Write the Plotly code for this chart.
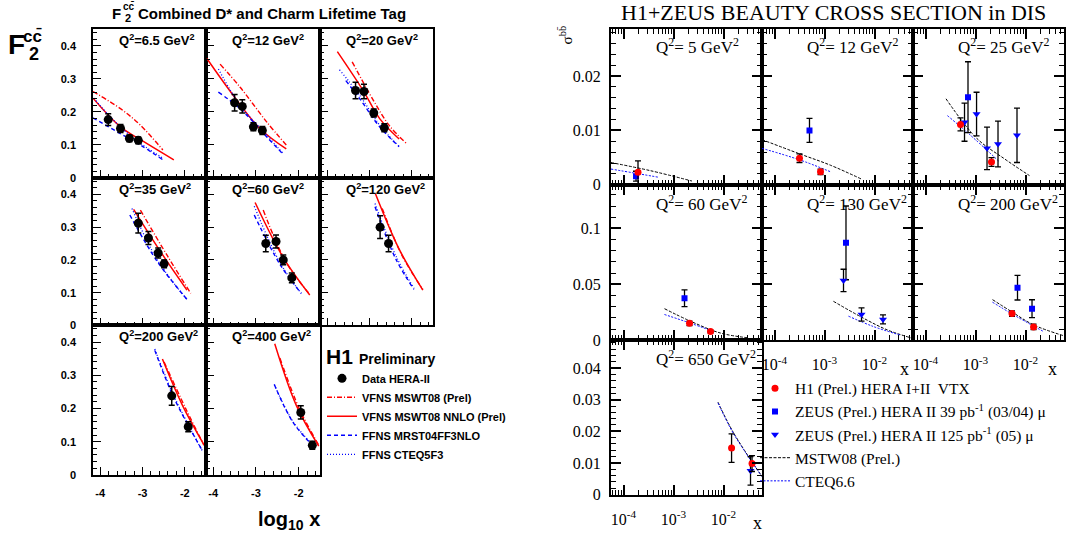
import plotly.graph_objects as go

W, H = 1069, 538
SANS = "Liberation Sans"
SERIF = "Liberation Serif"
RED, BLUE, BLACK = "#ff0000", "#0000ff", "#000000"

# ================= Left chart: H1 F2^cc (log10 x) =================
charm_q2 = ["6.5", "12", "20", "35", "60", "120", "200", "400"]
charm_logx = [
    [-3.81, -3.52, -3.31, -3.10],
    [-3.50, -3.32, -3.06, -2.85],
    [-3.33, -3.13, -2.90, -2.65],
    [-3.10, -2.86, -2.63, -2.49],
    [-2.77, -2.53, -2.36, -2.16],
    [-2.75, -2.55],
    [-2.31, -1.92],
    [-1.95, -1.68],
]
charm_f2 = [
    [0.177, 0.150, 0.120, 0.114],
    [0.228, 0.217, 0.155, 0.144],
    [0.265, 0.262, 0.197, 0.152],
    [0.312, 0.267, 0.221, 0.188],
    [0.250, 0.256, 0.200, 0.145],
    [0.300, 0.250],
    [0.238, 0.145],
    [0.188, 0.089],
]
charm_err = [
    [0.018, 0.012, 0.010, 0.010],
    [0.025, 0.020, 0.012, 0.012],
    [0.025, 0.022, 0.012, 0.012],
    [0.030, 0.020, 0.015, 0.012],
    [0.025, 0.020, 0.015, 0.015],
    [0.035, 0.025],
    [0.028, 0.015],
    [0.020, 0.012],
]
# VFNS MSWT08 (Prel) - red dash-dot
vfns_logx = [
    [-4.17, -3.52, -3.05, -2.52], [-3.84, -3.37, -2.75, -2.29],
    [-3.41, -2.93, -2.54, -2.13], [-3.05, -2.41, -1.86],
    [-2.83, -2.29, -1.74], [-2.70, -2.23, -1.74],
    [-2.49, -1.98, -1.55], [-2.44, -1.98, -1.53],
]
vfns_f2 = [
    [0.262, 0.210, 0.160, 0.085], [0.345, 0.275, 0.170, 0.100],
    [0.352, 0.240, 0.160, 0.105], [0.352, 0.212, 0.098],
    [0.352, 0.192, 0.095], [0.357, 0.213, 0.110],
    [0.340, 0.200, 0.090], [0.352, 0.198, 0.090],
]
# VFNS MSWT08 NNLO (Prel) - red solid
nnlo_logx = [
    [-4.17, -3.52, -2.97, -2.26], [-4.15, -3.53, -2.91, -2.29],
    [-3.76, -3.15, -2.76, -2.30], [-3.21, -2.61, -1.95],
    [-3.02, -2.36, -1.74], [-2.86, -2.30, -1.74],
    [-2.53, -2.05, -1.54], [-2.56, -2.05, -1.53],
]
nnlo_f2 = [
    [0.242, 0.155, 0.110, 0.055], [0.362, 0.250, 0.150, 0.088],
    [0.383, 0.265, 0.180, 0.118], [0.354, 0.232, 0.108],
    [0.375, 0.207, 0.093], [0.402, 0.233, 0.108],
    [0.349, 0.208, 0.089], [0.395, 0.208, 0.087],
]
# FFNS MRST04FF3NLO - blue dashed
mrst_logx = [
    [-4.17, -3.60, -3.05, -2.52], [-3.88, -3.37, -2.75, -2.37],
    [-3.56, -3.23, -2.76, -2.30], [-3.30, -2.65, -1.94],
    [-3.04, -2.44, -1.94], [-2.87, -2.38, -1.95],
    [-2.71, -2.25, -1.58], [-2.57, -2.13, -1.63],
]
mrst_f2 = [
    [0.182, 0.140, 0.100, 0.055], [0.260, 0.210, 0.125, 0.073],
    [0.295, 0.240, 0.155, 0.095], [0.337, 0.195, 0.078],
    [0.337, 0.187, 0.098], [0.362, 0.203, 0.110],
    [0.375, 0.230, 0.072], [0.272, 0.158, 0.083],
]
# FFNS CTEQ5F3 - blue dotted
cteq5_logx = [
    [-4.15, -3.76, -3.21, -2.52], [-3.88, -3.37, -2.75, -2.37],
    [-3.71, -3.23, -2.76, -2.30], [-3.25, -2.65, -1.94],
    [-3.04, -2.44, -1.94], [-2.87, -2.38, -1.95],
    [-2.71, -2.25, -1.58], [-2.57, -2.13, -1.63],
]
cteq5_f2 = [
    [0.242, 0.185, 0.120, 0.060], [0.330, 0.220, 0.130, 0.075],
    [0.328, 0.250, 0.160, 0.095], [0.357, 0.200, 0.078],
    [0.364, 0.192, 0.098], [0.372, 0.213, 0.113],
    [0.379, 0.235, 0.071], [0.272, 0.160, 0.085],
]
left_xticks = [-4, -3, -2]
left_xticklabels = ["-4", "-3", "-2"]
left_yticks = [0, 0.1, 0.2, 0.3, 0.4]
left_yticklabels = ["0", "0.1", "0.2", "0.3", "0.4"]

# ================= Right chart: H1+ZEUS beauty (x) =================
beauty_q2 = ["5", "12", "25", "60", "130", "200", "650"]
h1_x = [[1.95e-4], [3.16e-4, 8.32e-4], [5.01e-4, 2.09e-3], [2.09e-3, 5.50e-3], [], [5.37e-3, 1.45e-2], [1.45e-2, 3.72e-2]]
h1_sigma = [[0.0023], [0.0049, 0.0024], [0.0111, 0.0042], [0.0151, 0.0078], [], [0.0238, 0.0119], [0.0147, 0.0098]]
h1_err = [[0.0021], [0.0008, 0.0005], [0.0012, 0.0008], [0.0020, 0.0012], [], [0.0025, 0.0025], [0.0045, 0.0025]]
zeus39_x = [[1.78e-4], [5.01e-4], [7.08e-4], [1.66e-3], [2.69e-3], [6.92e-3, 1.35e-2], []]
zeus39_sigma = [[0.0016], [0.0100], [0.0161], [0.0375], [0.0871], [0.047, 0.0282], []]
zeus39_err = [[0.0009], [0.0022], [0.0065], [0.0075], [0.033], [0.011, 0.008], []]
zeus125_x = [[], [], [6.03e-4, 1.05e-3, 1.70e-3, 2.82e-3, 6.76e-3], [], [2.40e-3, 5.50e-3, 1.48e-2], [], [3.47e-2]]
zeus125_sigma = [[], [], [0.0115, 0.0130, 0.0067, 0.0075, 0.0091], [], [0.0535, 0.023, 0.0186], [], [0.0075]]
zeus125_err = [[], [], [0.0035, 0.0040, 0.0039, 0.0042, 0.0050], [], [0.010, 0.006, 0.004], [], [0.0045]]
mstw_x = [
    [5.62e-5, 3.47e-4, 2.34e-3], [5.62e-5, 3.16e-4, 1.32e-3, 5.37e-3],
    [2.57e-4, 1.07e-3, 3.63e-3, 1.20e-2], [6.61e-4, 2.09e-3, 8.71e-3, 3.16e-2],
    [1.51e-3, 5.62e-3, 1.78e-2, 5.37e-2], [2.19e-3, 5.37e-3, 1.45e-2, 6.31e-2],
    [7.76e-3, 1.58e-2, 5.89e-2],
]
mstw_sigma = [
    [0.0041, 0.0026, 0.0007], [0.0083, 0.0057, 0.0036, 0.0011],
    [0.0158, 0.0085, 0.0049, 0.0017], [0.0282, 0.0174, 0.0064, 0.0021],
    [0.0348, 0.0204, 0.0093, 0.0021], [0.0363, 0.0253, 0.0137, 0.0035],
    [0.0292, 0.0196, 0.0057],
]
cteq66_x = [
    [5.62e-5, 1.58e-4, 5.01e-4], [5.62e-5, 3.16e-4, 1.32e-3],
    [2.75e-4, 7.94e-4, 2.88e-3], [6.61e-4, 2.09e-3, 6.31e-3],
    [3.02e-3, 9.55e-3, 3.39e-2], [2.19e-3, 5.37e-3, 2.29e-2],
    [7.76e-3, 1.58e-2, 5.89e-2],
]
cteq66_sigma = [
    [0.0029, 0.0022, 0.0014], [0.0067, 0.0046, 0.0024],
    [0.0127, 0.0091, 0.0044], [0.0230, 0.0155, 0.0078],
    [0.0215, 0.0122, 0.0044], [0.0340, 0.0235, 0.0078],
    [0.0290, 0.0193, 0.0057],
]
right_xticks = [1e-4, 1e-3, 1e-2]
right_xticklabels = ["10<sup>-4</sup>", "10<sup>-3</sup>", "10<sup>-2</sup>"]
right_yticks = [[0, 0.01, 0.02], [0, 0.05, 0.1], [0, 0.01, 0.02, 0.03, 0.04]]
right_yticklabels = [["0", "0.01", "0.02"], ["0", "0.05", "0.1"], ["0", "0.01", "0.02", "0.03", "0.04"]]
right_yranges = [[0, 0.0287], [0, 0.139], [0, 0.0488]]
right_yminor = [0.002, 0.01, 0.002]

# ================= layout geometry (pixels) =================
LCOLS = [93, 206, 320, 433]
LROWS = [30, 181, 331, 483]
RCOLS = [611, 762, 913, 1064]
RROWS = [29, 188, 346, 503]

def fx(p):
    return p / W

def fy(p):
    return 1 - p / H

fig = go.Figure()
axes = {}
annotations = []

def ann(text, x, y, size, family, xanchor="left", yanchor="middle", bold=False, angle=0):
    annotations.append(dict(
        text=text, x=fx(x), y=fy(y), xref="paper", yref="paper",
        xanchor=xanchor, yanchor=yanchor, showarrow=False, textangle=angle,
        font=dict(family=family, size=size, color="black", weight="bold" if bold else "normal"),
    ))

# ---------- left panels ----------
left_tickfont = dict(family=SANS, size=11, color="black", weight="bold")
for k in range(8):
    r, c = divmod(k, 3)
    n = k + 1
    axes[f"xaxis{n}"] = dict(
        domain=[fx(LCOLS[c]), fx(LCOLS[c + 1])], range=[-4.17, -1.5], anchor=f"y{n}",
        showline=True, linecolor="black", linewidth=1.5, mirror=True,
        ticks="inside", ticklen=8, tickwidth=1.2, tickcolor="black",
        tickmode="array", tickvals=left_xticks, ticktext=left_xticklabels,
        showticklabels=(r == 2), tickfont=left_tickfont, ticklabelstandoff=7,
        minor=dict(ticks="inside", ticklen=4, tickwidth=1, tickcolor="black", dtick=0.2, tick0=-4),
        showgrid=False, zeroline=False, fixedrange=True,
    )
    axes[f"yaxis{n}"] = dict(
        domain=[fy(LROWS[r + 1]), fy(LROWS[r])], range=[0, 0.45], anchor=f"x{n}",
        showline=True, linecolor="black", linewidth=1.5, mirror=True,
        ticks="inside", ticklen=8, tickwidth=1.2, tickcolor="black",
        tickmode="array", tickvals=left_yticks, ticktext=left_yticklabels,
        showticklabels=(c == 0), tickfont=left_tickfont, ticklabelstandoff=13,
        minor=dict(ticks="inside", ticklen=4, tickwidth=1, tickcolor="black", dtick=0.02, tick0=0),
        showgrid=False, zeroline=False, fixedrange=True,
    )
    xa, ya = f"x{n}", f"y{n}"
    first = (k == 0)
    fig.add_trace(go.Scatter(x=vfns_logx[k], y=vfns_f2[k], mode="lines", xaxis=xa, yaxis=ya,
                             line=dict(color=RED, width=1.4, dash="5px,2px,1px,2px", shape="spline"),
                             name="VFNS MSWT08 (Prel)", legend="legend", legendrank=2, showlegend=first))
    fig.add_trace(go.Scatter(x=nnlo_logx[k], y=nnlo_f2[k], mode="lines", xaxis=xa, yaxis=ya,
                             line=dict(color=RED, width=1.5, shape="spline"),
                             name="VFNS MSWT08 NNLO (Prel)", legend="legend", legendrank=3, showlegend=first))
    fig.add_trace(go.Scatter(x=mrst_logx[k], y=mrst_f2[k], mode="lines", xaxis=xa, yaxis=ya,
                             line=dict(color=BLUE, width=1.4, dash="4px,3px", shape="spline"),
                             name="FFNS MRST04FF3NLO", legend="legend", legendrank=4, showlegend=first))
    fig.add_trace(go.Scatter(x=cteq5_logx[k], y=cteq5_f2[k], mode="lines", xaxis=xa, yaxis=ya,
                             line=dict(color=BLUE, width=1.3, dash="1px,2px", shape="spline"),
                             name="FFNS CTEQ5F3", legend="legend", legendrank=5, showlegend=first))
    fig.add_trace(go.Scatter(x=charm_logx[k], y=charm_f2[k], mode="markers", xaxis=xa, yaxis=ya,
                             marker=dict(color=BLACK, size=9, symbol="circle"),
                             error_y=dict(type="data", array=charm_err[k], color=BLACK, thickness=1.5, width=3),
                             name="Data HERA-II", legend="legend", legendrank=1, showlegend=first))
    ann(f"Q<sup>2</sup>={charm_q2[k]} GeV<sup>2</sup>", LCOLS[c] + 24, LROWS[r] + 11, 13, SANS, bold=True)

# ---------- right panels ----------
minor_log = [m * 10.0 ** d for d in (-5, -4, -3, -2) for m in range(2, 10)]
right_tickfont = dict(family=SERIF, size=16, color="black")
seen = set()
for j in range(7):
    r, c = divmod(j, 3)
    n = 9 + j
    axes[f"xaxis{n}"] = dict(
        type="log", domain=[fx(RCOLS[c]), fx(RCOLS[c + 1])], range=[-4.25, -1.23], anchor=f"y{n}",
        showline=True, linecolor="black", linewidth=2, mirror="allticks",
        ticks="inside", ticklen=10, tickwidth=1.5, tickcolor="black",
        tickmode="array", tickvals=right_xticks, ticktext=right_xticklabels,
        showticklabels=(j >= 4), tickfont=right_tickfont, ticklabelstandoff=9,
        minor=dict(tickmode="array", tickvals=minor_log, ticks="inside", ticklen=5, tickwidth=1, tickcolor="black"),
        showgrid=False, zeroline=False, fixedrange=True,
    )
    axes[f"yaxis{n}"] = dict(
        domain=[fy(RROWS[r + 1]), fy(RROWS[r])], range=right_yranges[r], anchor=f"x{n}",
        showline=True, linecolor="black", linewidth=2, mirror="allticks",
        ticks="inside", ticklen=10, tickwidth=1.5, tickcolor="black",
        tickmode="array", tickvals=right_yticks[r], ticktext=right_yticklabels[r],
        showticklabels=(c == 0), tickfont=right_tickfont, ticklabelstandoff=5,
        minor=dict(ticks="inside", ticklen=5, tickwidth=1, tickcolor="black", dtick=right_yminor[r], tick0=0),
        showgrid=False, zeroline=False, fixedrange=True,
    )
    xa, ya = f"x{n}", f"y{n}"

    def show(key):
        if key in seen:
            return False
        seen.add(key)
        return True

    fig.add_trace(go.Scatter(x=mstw_x[j], y=mstw_sigma[j], mode="lines", xaxis=xa, yaxis=ya,
                             line=dict(color=BLACK, width=1, dash="3px,1.5px", shape="spline"),
                             name="MSTW08 (Prel.)", legend="legend2", legendrank=14, showlegend=show("mstw")))
    fig.add_trace(go.Scatter(x=cteq66_x[j], y=cteq66_sigma[j], mode="lines", xaxis=xa, yaxis=ya,
                             line=dict(color=BLUE, width=1, dash="2px,1.5px", shape="spline"),
                             name="CTEQ6.6", legend="legend2", legendrank=15, showlegend=show("cteq")))
    if zeus39_x[j]:
        fig.add_trace(go.Scatter(x=zeus39_x[j], y=zeus39_sigma[j], mode="markers", xaxis=xa, yaxis=ya,
                                 marker=dict(color=BLUE, size=6, symbol="square"),
                                 error_y=dict(type="data", array=zeus39_err[j], color=BLACK, thickness=1.3, width=3),
                                 name="ZEUS (Prel.) HERA II 39 pb<sup>-1</sup> (03/04) \u03bc",
                                 legend="legend2", legendrank=12, showlegend=show("z39")))
    if zeus125_x[j]:
        fig.add_trace(go.Scatter(x=zeus125_x[j], y=zeus125_sigma[j], mode="markers", xaxis=xa, yaxis=ya,
                                 marker=dict(color=BLUE, size=7, symbol="triangle-down"),
                                 error_y=dict(type="data", array=zeus125_err[j], color=BLACK, thickness=1.3, width=3),
                                 name="ZEUS (Prel.) HERA II 125 pb<sup>-1</sup> (05) \u03bc",
                                 legend="legend2", legendrank=13, showlegend=show("z125")))
    if h1_x[j]:
        fig.add_trace(go.Scatter(x=h1_x[j], y=h1_sigma[j], mode="markers", xaxis=xa, yaxis=ya,
                                 marker=dict(color=RED, size=7, symbol="circle"),
                                 error_y=dict(type="data", array=h1_err[j], color=BLACK, thickness=1.3, width=3),
                                 name="H1 (Prel.) HERA I+II\u00a0 VTX",
                                 legend="legend2", legendrank=11, showlegend=show("h1")))
    ann(f"Q<sup>2</sup>= {beauty_q2[j]} GeV<sup>2</sup>", RCOLS[c] + 43, RROWS[r] + 18, 17, SERIF)

# ---------- text ----------
ann("F", 6, 45, 28, SANS, bold=True)
ann("cc\u0304", 21, 37, 17, SANS, bold=True)
ann("2", 27, 55, 18, SANS, bold=True)
ann("F", 110, 13.5, 15, SANS, bold=True)
ann("cc\u0304", 120.5, 7, 10, SANS, bold=True)
ann("2", 123, 18.5, 11, SANS, bold=True)
ann("Combined D* and Charm Lifetime Tag", 135.5, 13.5, 15, SANS, bold=True)
ann("log<sub>10</sub> x", 289, 529, 20, SANS, xanchor="center", bold=True)
ann("H1", 324, 363, 21, SANS, bold=True)
ann("Preliminary", 356.5, 365, 14, SANS, bold=True)

ann("H1+ZEUS BEAUTY CROSS SECTION in DIS", 833.5, 12.5, 22, SERIF, xanchor="center")
ann("\u03c3<sup>bb\u0304</sup>", 566, 36, 15, SERIF, xanchor="center", angle=-90)
ann("x", 904, 375, 18, SERIF, xanchor="center")
ann("x", 1052, 375, 18, SERIF, xanchor="center")
ann("x", 757, 532, 18, SERIF, xanchor="center")

fig.update_layout(
    width=W, height=H, margin=dict(l=0, r=0, t=0, b=0),
    paper_bgcolor="white", plot_bgcolor="white",
    annotations=annotations,
    legend=dict(x=fx(322), y=fy(370), xanchor="left", yanchor="top", bgcolor="rgba(0,0,0,0)",
                borderwidth=0, font=dict(family=SANS, size=11, color="black", weight="bold"),
                traceorder="normal"),
    legend2=dict(x=fx(755), y=fy(378), xanchor="left", yanchor="top", bgcolor="rgba(0,0,0,0)",
                 borderwidth=0, font=dict(family=SERIF, size=15.5, color="black"),
                 traceorder="normal"),
    **axes,
)

fig.write_html("out.html", config={"displayModeBar": False},
               post_script="document.body.style.margin='0px';")
